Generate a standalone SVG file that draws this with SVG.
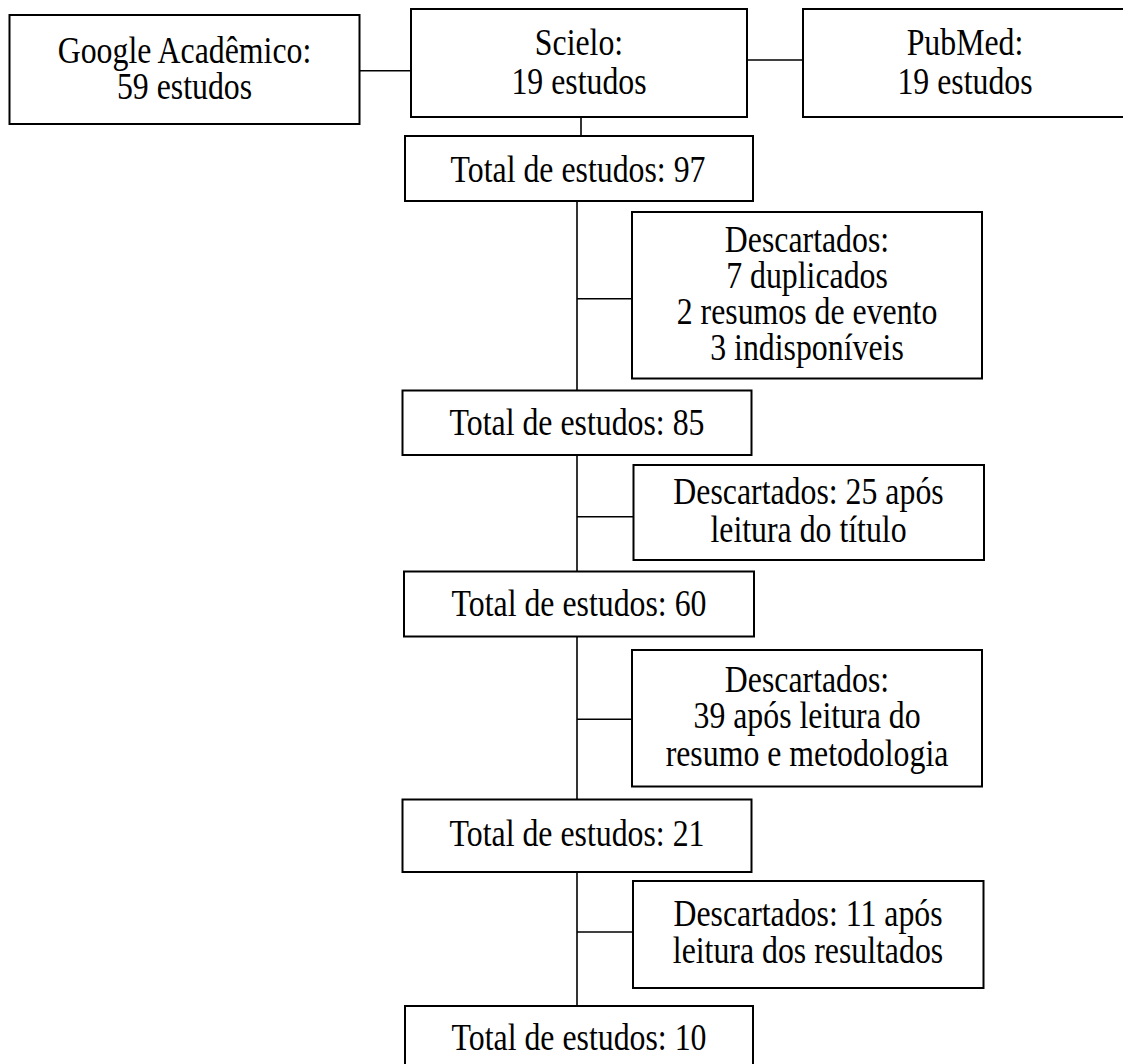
<svg xmlns="http://www.w3.org/2000/svg" width="1123" height="1064" viewBox="0 0 1123 1064">
<style>
.box{fill:#fff;stroke:#000;stroke-width:2}
.ln{stroke:#000;stroke-width:1.6;fill:none}
text{font-family:"Liberation Serif","Times New Roman",serif;font-size:37px;fill:#000;text-anchor:middle}
</style>
<rect width="1123" height="1064" fill="#fff"/>
<g id="connectors">
<line class="ln" x1="359" y1="70.7" x2="411" y2="70.7"/>
<line class="ln" x1="747" y1="60" x2="803" y2="60"/>
<line class="ln" x1="581" y1="117" x2="581" y2="136"/>
<line class="ln" x1="577" y1="201" x2="577" y2="390.5"/>
<line class="ln" x1="577" y1="455" x2="577" y2="571.5"/>
<line class="ln" x1="577" y1="636.5" x2="577" y2="799.5"/>
<line class="ln" x1="577" y1="872" x2="577" y2="1006"/>
<line class="ln" x1="577" y1="298.7" x2="632" y2="298.7"/>
<line class="ln" x1="577" y1="516.7" x2="633.5" y2="516.7"/>
<line class="ln" x1="577" y1="719.3" x2="632" y2="719.3"/>
<line class="ln" x1="577" y1="932" x2="633" y2="932"/>
</g>
<g id="google">
<rect class="box" x="9.5" y="15" width="350" height="109"/>
<text transform="translate(184.5 63.3) scale(0.86 1)">Google Acadêmico:</text>
<text transform="translate(184.5 99.3) scale(0.86 1)">59 estudos</text>
</g>
<g id="scielo">
<rect class="box" x="411" y="9" width="336" height="108"/>
<text transform="translate(579 55) scale(0.86 1)">Scielo:</text>
<text transform="translate(579 93.5) scale(0.86 1)">19 estudos</text>
</g>
<g id="pubmed">
<rect class="box" x="803" y="9" width="330" height="108"/>
<text transform="translate(965 55) scale(0.86 1)">PubMed:</text>
<text transform="translate(965 93.5) scale(0.86 1)">19 estudos</text>
</g>
<g id="total97">
<rect class="box" x="405" y="136" width="348" height="65"/>
<text transform="translate(578 181.7) scale(0.86 1)">Total de estudos: 97</text>
</g>
<g id="desc1">
<rect class="box" x="632" y="212" width="350" height="166.5"/>
<text transform="translate(807 251.7) scale(0.86 1)">Descartados:</text>
<text transform="translate(807 287.5) scale(0.86 1)">7 duplicados</text>
<text transform="translate(807 324) scale(0.86 1)">2 resumos de evento</text>
<text transform="translate(807 360) scale(0.86 1)">3 indisponíveis</text>
</g>
<g id="total85">
<rect class="box" x="402.5" y="390.5" width="349" height="64.5"/>
<text transform="translate(577 435) scale(0.86 1)">Total de estudos: 85</text>
</g>
<g id="desc2">
<rect class="box" x="633.5" y="465" width="350.5" height="95"/>
<text transform="translate(808.5 504.3) scale(0.86 1)">Descartados: 25 após</text>
<text transform="translate(808.5 541.7) scale(0.86 1)">leitura do título</text>
</g>
<g id="total60">
<rect class="box" x="404" y="571.5" width="350" height="65"/>
<text transform="translate(579 616) scale(0.86 1)">Total de estudos: 60</text>
</g>
<g id="desc3">
<rect class="box" x="632" y="650" width="350" height="136.5"/>
<text transform="translate(807 691.7) scale(0.86 1)">Descartados:</text>
<text transform="translate(807 728.3) scale(0.86 1)">39 após leitura do</text>
<text transform="translate(807 766) scale(0.86 1)">resumo e metodologia</text>
</g>
<g id="total21">
<rect class="box" x="402.5" y="799.5" width="349" height="72.5"/>
<text transform="translate(577 846) scale(0.86 1)">Total de estudos: 21</text>
</g>
<g id="desc4">
<rect class="box" x="633" y="881" width="350.5" height="107"/>
<text transform="translate(808 926) scale(0.86 1)">Descartados: 11 após</text>
<text transform="translate(808 963.3) scale(0.86 1)">leitura dos resultados</text>
</g>
<g id="total10">
<rect class="box" x="405" y="1006" width="348" height="80"/>
<text transform="translate(579 1050) scale(0.86 1)">Total de estudos: 10</text>
</g>
</svg>
